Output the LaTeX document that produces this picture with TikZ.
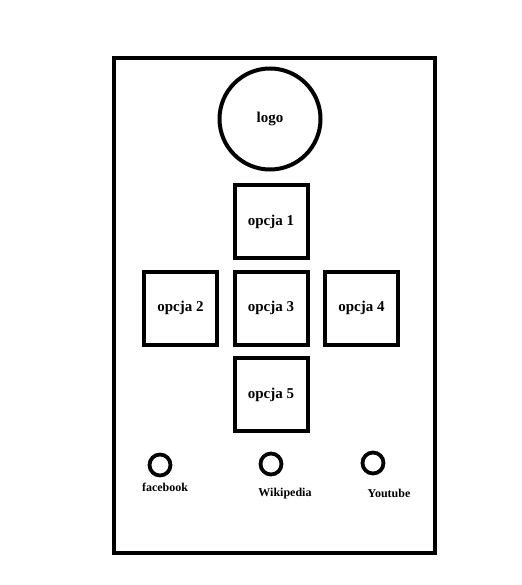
\documentclass[tikz,border=0pt]{standalone}
\usepackage{fontspec}
\setmainfont{Liberation Serif}
\usetikzlibrary{positioning}
\tikzset{
frame/.style={line width=4pt}, % the outer phone frame
option/.style={draw, line width=4pt, minimum width=73pt, minimum height=73pt, inner sep=0pt, font=\fontsize{15}{18}\selectfont\bfseries}, % the square menu buttons
logo/.style={draw, circle, line width=4pt, minimum size=101pt, inner sep=0pt, font=\fontsize{15}{18}\selectfont\bfseries}, % the big round logo
social/.style={draw, circle, line width=3.8pt, minimum size=21pt, inner sep=0pt}, % the small link icons
label/.style={font=\fontsize{12}{14}\selectfont\bfseries, inner sep=0pt}, % text under the icons
}
\begin{document}
\begin{tikzpicture}[x=1pt, y=-1pt, node distance=86.5pt and 90.5pt, on grid]
    \useasboundingbox (0,0) rectangle (521,585);
    \draw[frame] (114,58) rectangle (435,553);

    \node[logo] (logo) at (270,119) {logo};

    \node[option] (o3) at (271,308) {opcja 3};
    \node[option, above=of o3] (o1) {opcja 1};
    \node[option, left=of o3] (o2) {\raisebox{4pt}{opcja 2}};
    \node[option, right=of o3] (o4) {opcja 4};
    \node[option, below=of o3] (o5) {opcja 5};

    \node[social] (fb) at (160,465) {};
    \node[social] (wiki) at (271,464) {};
    \node[social] (yt) at (373,463) {};

    \node[label] (fbtext) at (165,487) {facebook};
    \node[label] (wikitext) at (285,494) {Wikipedia};
    \node[label] (yttext) at (389,493) {Youtube};
  \end{tikzpicture}
\end{document}
